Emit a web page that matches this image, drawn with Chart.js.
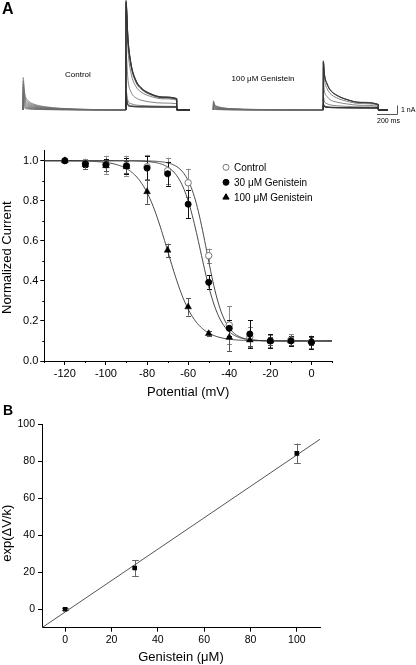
<!DOCTYPE html>
<html><head><meta charset="utf-8">
<script src="https://cdn.jsdelivr.net/npm/chart.js@4.4.1/dist/chart.umd.min.js"></script>
<style>
html,body{margin:0;padding:0;background:#fff;width:416px;height:665px;overflow:hidden;font-family:"Liberation Sans",Arial,Helvetica,sans-serif;}
.box{position:absolute;}
.lbl{position:absolute;white-space:nowrap;color:#000;line-height:1;}
</style></head><body>
<div class="box" style="left:0;top:0;width:416px;height:125px"><canvas id="cTr"></canvas></div>
<div class="box" style="left:0;top:140px;width:416px;height:260px"><canvas id="cA"></canvas></div>
<div class="box" style="left:0;top:380px;width:416px;height:285px"><canvas id="cB"></canvas></div>
<div class="lbl" style="left:2px;top:1px;font-weight:bold;font-size:16px">A</div>
<div class="lbl" style="left:3px;top:403px;font-weight:bold;font-size:14px">B</div>
<div class="lbl" style="left:65px;top:70.5px;font-size:8px">Control</div>
<div class="lbl" style="left:231.5px;top:74.5px;font-size:8px">100 μM Genistein</div>
<div class="lbl" style="left:401px;top:106px;font-size:7px">1 nA</div>
<div class="lbl" style="left:377px;top:117px;font-size:7px">200 ms</div>
<script>
// ---------------- Panel A (top): current traces ----------------
// time grids in ms, currents in nA
const ctrlPreT  = [1, 18, 48, 108, 224, 377, 690, 1029];
const ctrlTestT = [1030, 1050, 1080, 1130, 1180, 1280, 1400, 1537];
const ctrlEndT  = [1538, 1670];
const ctrlPre = [
  [0.35,0.18,0.11,0.06,0.04,0.02,0.01,0],
  [0.5,0.26,0.15,0.09,0.05,0.03,0.01,0],
  [0.7,0.36,0.21,0.13,0.07,0.04,0.01,0],
  [0.9,0.46,0.27,0.17,0.09,0.05,0.02,0],
  [1.1,0.56,0.33,0.2,0.11,0.06,0.02,0.01],
  [1.35,0.69,0.41,0.25,0.14,0.07,0.02,0.01],
  [1.6,0.82,0.49,0.3,0.16,0.08,0.03,0.01],
  [1.9,0.97,0.58,0.35,0.19,0.1,0.03,0.01],
  [2.2,1.12,0.67,0.41,0.22,0.12,0.04,0.01],
  [2.55,1.3,0.77,0.47,0.26,0.13,0.04,0.02],
  [2.9,1.48,0.88,0.54,0.3,0.15,0.05,0.02],
  [3.25,1.66,0.98,0.6,0.33,0.17,0.05,0.02],
  [3.63,1.85,1.1,0.67,0.37,0.19,0.06,0.02]
];
const ctrlTest = [
  [12.2,8.0,5.2,3.3,2.5,1.8,1.45,1.28],
  [12.1,7.9,5.15,3.27,2.48,1.78,1.44,1.27],
  [12.0,7.85,5.1,3.24,2.46,1.77,1.43,1.26],
  [11.9,7.8,5.05,3.2,2.43,1.75,1.41,1.24],
  [11.8,7.7,5.0,3.15,2.4,1.72,1.39,1.22],
  [11.6,7.5,4.85,3.05,2.32,1.67,1.35,1.18],
  [10.9,6.6,4.1,2.6,2.0,1.5,1.24,1.1],
  [6.3,3.3,2.0,1.35,1.1,0.88,0.77,0.7],
  [2.1,1.0,0.7,0.55,0.5,0.45,0.42,0.4],
  [1.5,0.7,0.5,0.42,0.4,0.38,0.36,0.35],
  [1.2,0.55,0.42,0.38,0.36,0.34,0.33,0.32],
  [1.2,0.5,0.4,0.36,0.34,0.33,0.32,0.31],
  [1.15,0.5,0.38,0.34,0.33,0.32,0.31,0.3]
];
const genPreT  = [1904, 1918, 1943, 1993, 2103, 2303, 2703, 3002];
const genTestT = [3003, 3016, 3040, 3070, 3137, 3237, 3370, 3553];
const genEndT  = [3554, 3650];
const genPre = [
  [0.1,0.06,0.04,0.03,0.01,0.01,0,0],
  [0.15,0.09,0.06,0.04,0.02,0.01,0,0],
  [0.2,0.12,0.08,0.05,0.03,0.01,0.01,0],
  [0.27,0.16,0.11,0.07,0.04,0.02,0.01,0],
  [0.34,0.2,0.14,0.09,0.05,0.02,0.01,0],
  [0.42,0.24,0.17,0.11,0.06,0.03,0.01,0],
  [0.5,0.29,0.2,0.13,0.07,0.03,0.01,0],
  [0.58,0.34,0.24,0.15,0.08,0.04,0.02,0.01],
  [0.66,0.38,0.27,0.17,0.09,0.04,0.02,0.01],
  [0.75,0.44,0.31,0.19,0.1,0.05,0.02,0.01],
  [0.84,0.49,0.34,0.21,0.11,0.06,0.02,0.01],
  [0.93,0.54,0.38,0.23,0.13,0.06,0.03,0.01],
  [1.03,0.6,0.42,0.26,0.14,0.07,0.03,0.01]
];
const genTest = [
  [5.48,3.9,2.97,2.3,1.67,1.19,0.86,0.63],
  [5.37,3.82,2.91,2.25,1.64,1.17,0.84,0.62],
  [5.34,3.8,2.9,2.24,1.63,1.16,0.84,0.61],
  [5.3,3.78,2.88,2.23,1.62,1.15,0.83,0.61],
  [4.63,3.2,2.4,1.85,1.35,0.98,0.72,0.54],
  [3.03,2.0,1.5,1.15,0.88,0.68,0.52,0.42],
  [1.48,0.9,0.7,0.57,0.47,0.4,0.35,0.31],
  [0.75,0.45,0.38,0.33,0.3,0.27,0.25,0.24],
  [0.65,0.4,0.34,0.3,0.27,0.25,0.24,0.23],
  [0.57,0.36,0.31,0.28,0.26,0.25,0.24,0.23],
  [0.55,0.35,0.3,0.27,0.25,0.24,0.23,0.22],
  [0.55,0.35,0.3,0.27,0.25,0.24,0.23,0.22],
  [0.54,0.34,0.29,0.27,0.25,0.24,0.23,0.22]
];
const ctrlStart = 0, genStart = 1903;
const scaleBarT = [3540, 3745, 3745];
const scaleBarI = [-0.5, -0.5, 0.5];

// ---------------- Panel A (bottom): steady-state inactivation ----------------
const potentials = [-120,-110,-100,-90,-80,-70,-60,-50,-40,-30,-20,-10,0];
const controlVals = [1.0,0.985,0.98,0.975,0.97,0.95,0.89,0.526,0.18,0.12,0.1,0.105,0.095];
const controlErr  = [0.005,0.025,0.045,0.05,0.06,0.065,0.07,0.035,0.095,0.05,0.03,0.03,0.03];
const gen30Vals = [1.0,0.985,0.98,0.974,0.963,0.935,0.783,0.393,0.163,0.135,0.1,0.1,0.093];
const gen30Err  = [0.005,0.015,0.03,0.04,0.06,0.06,0.07,0.035,0.04,0.07,0.035,0.027,0.033];
const gen100Vals = [1.0,0.98,0.975,0.97,0.845,0.553,0.27,0.137,0.118,0.105,0.1,0.1,0.1];
const gen100Err  = [0.005,0.02,0.025,0.03,0.06,0.033,0.043,0.012,0.07,0.03,0.02,0.02,0.02];
// Boltzmann fit parameters (control, 30 uM, 100 uM)
const fitVhalf = [-51, -54, -70];
const fitSlope = [4.3, 4.8, 6.5];
const fitTop = 1.0, fitBottom = 0.1;
const seriesNames = ['Control', '30 μM Genistein', '100 μM Genistein'];
const potTicks = [-120,-100,-80,-60,-40,-20,0];
const potMinor = [-130,-110,-90,-70,-50,-30,-10,10];
const curTicks = [0,0.2,0.4,0.6,0.8,1.0];
const curMinor = [0.1,0.3,0.5,0.7,0.9];

// ---------------- Panel B ----------------
const genConc = [0, 30, 100];
const expVals = [0, 22.3, 84.3];
const expErr  = [0.6, 4.3, 5.3];
const lineX = [-10, 110];
const lineY = [-10, 91.9];
const concTicks = [0,20,40,60,80,100];
const expTicks = [0,20,40,60,80,100];

const FONT = '"Liberation Sans", Arial, Helvetica, sans-serif';
Chart.defaults.font.family = FONT;
Chart.defaults.color = '#000';

// ---------- traces chart ----------
function buildTrace(t0, preT, pre, testT, test, endT) {
  const pts = [{x:t0, y:0}];
  preT.forEach((t,i)=>pts.push({x:t, y:pre[i]}));
  testT.forEach((t,i)=>pts.push({x:t, y:test[i]}));
  endT.forEach(t=>pts.push({x:t, y:0}));
  return pts;
}
const nPre = ctrlPreT.length; // segments with p0 index < nPre belong to the prepulse
const traceSets = [];
for (let i = 0; i < ctrlPre.length; i++) {
  traceSets.push({data: buildTrace(ctrlStart, ctrlPreT, ctrlPre[i], ctrlTestT, ctrlTest[i], ctrlEndT)});
}
for (let i = 0; i < genPre.length; i++) {
  traceSets.push({data: buildTrace(genStart, genPreT, genPre[i], genTestT, genTest[i], genEndT)});
}
traceSets.forEach(d => Object.assign(d, {
  showLine:true, pointRadius:0, borderColor:'#333', borderWidth:0.6,
  cubicInterpolationMode:'monotone', fill:false,
  segment:{borderColor: c => (c.p0DataIndex < nPre ? '#6a6a6a' : '#333')}
}));
traceSets.push({data: scaleBarT.map((t,i)=>({x:t, y:scaleBarI[i]})), showLine:true, pointRadius:0, borderColor:'#555', borderWidth:1, tension:0});

new Chart(document.getElementById('cTr'), {
  type: 'scatter',
  data: {datasets: traceSets},
  options: {
    responsive:true, maintainAspectRatio:false, animation:false,
    layout:{padding:0},
    plugins:{legend:{display:false}, tooltip:{enabled:false}},
    scales:{
      x:{type:'linear', display:false, min:-230, max:3930},
      y:{type:'linear', display:false, min:-1.6667, max:12.2222}
    }
  }
});

// ---------- shared plugins ----------
const errorBarPlugin = {
  id:'errbars',
  beforeDatasetsDraw(chart) {
    const {ctx} = chart; const x = chart.scales.x, y = chart.scales.y;
    chart.data.datasets.forEach(ds => {
      if (!ds.errors) return;
      ctx.save();
      ctx.strokeStyle = ds.errorColor || '#000';
      ctx.lineWidth = 1;
      const cap = ds.capHalf || 2.5;
      ds.data.forEach((p, j) => {
        const e = ds.errors[j]; if (!e) return;
        const px = Math.round(x.getPixelForValue(p.x)) + 0.5;
        const top = y.getPixelForValue(p.y + e), bot = y.getPixelForValue(p.y - e);
        ctx.beginPath();
        ctx.moveTo(px, top); ctx.lineTo(px, bot);
        ctx.moveTo(px - cap, Math.round(top)+0.5); ctx.lineTo(px + cap, Math.round(top)+0.5);
        ctx.moveTo(px - cap, Math.round(bot)+0.5); ctx.lineTo(px + cap, Math.round(bot)+0.5);
        ctx.stroke();
      });
      ctx.restore();
    });
  }
};
const minorTickPlugin = {
  id:'minorTicks',
  afterDraw(chart, args, opts) {
    const {ctx, chartArea} = chart; const x = chart.scales.x, y = chart.scales.y;
    ctx.save(); ctx.strokeStyle = '#000'; ctx.lineWidth = 1;
    ctx.beginPath();
    (opts.x || []).forEach(v => {
      const px = Math.round(x.getPixelForValue(v)) + 0.5;
      ctx.moveTo(px, chartArea.bottom); ctx.lineTo(px, chartArea.bottom + (opts.len || 2));
    });
    (opts.y || []).forEach(v => {
      const py = Math.round(y.getPixelForValue(v)) + 0.5;
      ctx.moveTo(chartArea.left - (opts.len || 2), py); ctx.lineTo(chartArea.left, py);
    });
    ctx.stroke(); ctx.restore();
  }
};
const legendPlugin = {
  id:'customLegend',
  afterDraw(chart, args, opts) {
    if (!opts.items) return;
    const {ctx} = chart;
    ctx.save();
    ctx.font = '10px ' + FONT; ctx.textBaseline = 'middle'; ctx.fillStyle = '#000';
    opts.items.forEach((it, i) => {
      const cx = opts.x, cy = opts.y + i * opts.dy;
      ctx.beginPath();
      if (it.shape === 'triangle') {
        const r = 3.6;
        ctx.moveTo(cx, cy - r); ctx.lineTo(cx + r*0.866, cy + r*0.5); ctx.lineTo(cx - r*0.866, cy + r*0.5); ctx.closePath();
      } else {
        ctx.arc(cx, cy, 3, 0, Math.PI*2);
      }
      ctx.fillStyle = it.fill; ctx.fill();
      ctx.strokeStyle = it.stroke; ctx.lineWidth = 1; ctx.stroke();
      ctx.fillStyle = '#000';
      ctx.fillText(it.text, opts.textX, cy + 0.5);
    });
    ctx.restore();
  }
};

// ---------- Boltzmann curves ----------
function fitCurve(k) {
  const pts = [];
  for (let v = -130; v <= 10; v += 0.5) {
    pts.push({x:v, y: fitBottom + (fitTop - fitBottom) / (1 + Math.exp((v - fitVhalf[k]) / fitSlope[k]))});
  }
  return pts;
}
const pts = vals => potentials.map((v,i)=>({x:v, y:vals[i]}));
const axisTitleFont = {size:13, family:FONT};

new Chart(document.getElementById('cA'), {
  type:'scatter',
  data:{datasets:[
    {data:fitCurve(0), showLine:true, pointRadius:0, borderColor:'#333', borderWidth:0.9, order:10},
    {data:fitCurve(1), showLine:true, pointRadius:0, borderColor:'#333', borderWidth:0.9, order:10},
    {data:fitCurve(2), showLine:true, pointRadius:0, borderColor:'#333', borderWidth:0.9, order:10},
    {label:seriesNames[0], data:pts(controlVals), errors:controlErr, errorColor:'#8a8a8a', pointStyle:'circle', pointRadius:3.2, backgroundColor:'#fff', borderColor:'#777', borderWidth:1, order:3},
    {label:seriesNames[1], data:pts(gen30Vals), errors:gen30Err, errorColor:'#111', pointStyle:'circle', pointRadius:3, backgroundColor:'#000', borderColor:'#000', borderWidth:1, order:2},
    {label:seriesNames[2], data:pts(gen100Vals), errors:gen100Err, errorColor:'#555', pointStyle:'triangle', pointRadius:3.9, backgroundColor:'#000', borderColor:'#000', borderWidth:0.5, order:1}
  ]},
  options:{
    responsive:true, maintainAspectRatio:false, animation:false,
    layout:{padding:{left:0, top:10.7, right:84, bottom:0}},
    plugins:{
      legend:{display:false}, tooltip:{enabled:false},
      minorTicks:{x:potMinor, y:curMinor, len:2},
      customLegend:{x:226, y:27.3, dy:15, textX:234, items:[
        {text:seriesNames[0], shape:'circle', fill:'#fff', stroke:'#777'},
        {text:seriesNames[1], shape:'circle', fill:'#000', stroke:'#000'},
        {text:seriesNames[2], shape:'triangle', fill:'#000', stroke:'#000'}
      ]}
    },
    scales:{
      x:{type:'linear', min:-130, max:10,
        afterBuildTicks:s=>{s.ticks = potTicks.map(v=>({value:v}));},
        afterFit:s=>{s.height = 39;},
        grid:{drawOnChartArea:false, drawTicks:true, tickLength:4, tickColor:'#000', color:'#000'},
        border:{display:true, color:'#000', width:1},
        ticks:{color:'#000', font:{size:11}, padding:2, maxRotation:0, autoSkip:false, callback:v=>String(v)},
        title:{display:true, text:'Potential (mV)', color:'#000', font:axisTitleFont, padding:{top:0,bottom:0}}
      },
      y:{type:'linear', min:0, max:1.05,
        afterBuildTicks:s=>{s.ticks = curTicks.map(v=>({value:v}));},
        afterFit:s=>{s.width = 44.3;},
        grid:{drawOnChartArea:false, drawTicks:true, tickLength:4, tickColor:'#000', color:'#000'},
        border:{display:true, color:'#000', width:1},
        ticks:{color:'#000', font:{size:11}, padding:2, autoSkip:false, callback:v=>Number(v).toFixed(1)},
        title:{display:true, text:'Normalized Current ', color:'#000', font:axisTitleFont, padding:{top:0,bottom:0}}
      }
    }
  },
  plugins:[errorBarPlugin, minorTickPlugin, legendPlugin]
});

// ---------- Panel B ----------
new Chart(document.getElementById('cB'), {
  type:'scatter',
  data:{datasets:[
    {data:lineX.map((v,i)=>({x:v, y:lineY[i]})), showLine:true, pointRadius:0, borderColor:'#555', borderWidth:1, order:5},
    {data:genConc.map((v,i)=>({x:v, y:expVals[i]})), errors:expErr, errorColor:'#666', capHalf:3.3, pointStyle:'rect', pointRadius:3.3, backgroundColor:'#000', borderColor:'#000', borderWidth:0, order:1}
  ]},
  options:{
    responsive:true, maintainAspectRatio:false, animation:false,
    layout:{padding:{left:0, top:44.3, right:96, bottom:0}},
    plugins:{legend:{display:false}, tooltip:{enabled:false}},
    scales:{
      x:{type:'linear', min:-10, max:110,
        afterBuildTicks:s=>{s.ticks = concTicks.map(v=>({value:v}));},
        afterFit:s=>{s.height = 37.3;},
        grid:{drawOnChartArea:false, drawTicks:true, tickLength:4, tickColor:'#000', color:'#000'},
        border:{display:true, color:'#000', width:1},
        ticks:{color:'#000', font:{size:10.5}, padding:2.5, maxRotation:0, autoSkip:false, callback:v=>String(v)},
        title:{display:true, text:'Genistein (μM)', color:'#000', font:axisTitleFont, padding:{top:0,bottom:0}}
      },
      y:{type:'linear', min:-10, max:100,
        afterBuildTicks:s=>{s.ticks = expTicks.map(v=>({value:v}));},
        afterFit:s=>{s.width = 42;},
        grid:{drawOnChartArea:false, drawTicks:true, tickLength:4, tickColor:'#000', color:'#000'},
        border:{display:true, color:'#000', width:1},
        ticks:{color:'#000', font:{size:10.5}, padding:3, autoSkip:false, callback:v=>String(v)},
        title:{display:true, text:'exp(ΔV/k)    ', color:'#000', font:axisTitleFont, padding:{top:0,bottom:0}}
      }
    }
  },
  plugins:[errorBarPlugin]
});
</script>
</body></html>
